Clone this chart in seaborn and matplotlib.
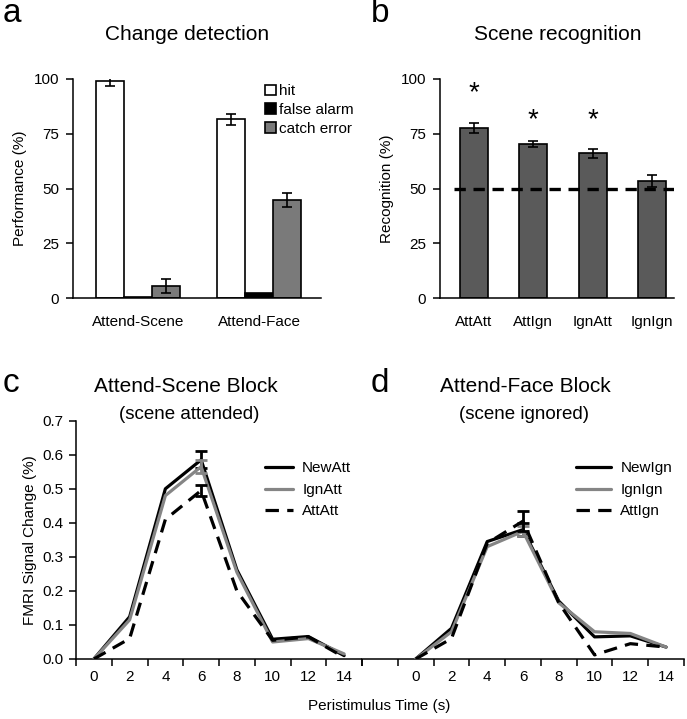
import numpy as np
import pandas as pd
import matplotlib
matplotlib.use("Agg")
import matplotlib.pyplot as plt
import seaborn as sns

# ---------------- data ----------------
a_groups = ["Attend-Scene", "Attend-Face"]
a_types = ["hit", "false alarm", "catch error"]
a_hit = [99.2, 81.6]
a_fa = [0.3, 2.3]
a_catch = [5.5, 44.7]
a_hit_err = [2.3, 2.5]
a_fa_err = [0.0, 0.0]
a_catch_err = [3.4, 3.2]

b_cats = ["AttAtt", "AttIgn", "IgnAtt", "IgnIgn"]
b_vals = [77.8, 70.2, 66.1, 53.6]
b_err = [2.3, 1.3, 2.1, 2.7]
b_star_y = [93.5, 81.2, 81.2, None]
b_chance = 50

t_vals = [0, 2, 4, 6, 8, 10, 12, 14]
c_labels = ["NewAtt", "IgnAtt", "AttAtt"]
c_new = [0.0, 0.124, 0.500, 0.585, 0.262, 0.058, 0.066, 0.010]
c_ign = [0.0, 0.115, 0.480, 0.565, 0.255, 0.050, 0.060, 0.015]
c_att = [0.0, 0.060, 0.410, 0.495, 0.200, 0.055, 0.065, 0.005]
c_err = [0.025, 0.020, 0.017]

d_labels = ["NewIgn", "IgnIgn", "AttIgn"]
d_new = [0.0, 0.090, 0.345, 0.380, 0.170, 0.065, 0.068, 0.035]
d_ign = [0.0, 0.080, 0.330, 0.375, 0.165, 0.080, 0.075, 0.035]
d_att = [0.0, 0.060, 0.340, 0.405, 0.165, 0.012, 0.045, 0.035]
d_err = [0.020, 0.015, 0.030]
err_time = 6

c_ticks = [0, 2, 4, 6, 8, 10, 12, 14]

# ---------------- style ----------------
sns.set_style("ticks")
plt.rcParams["font.family"] = ["Liberation Sans", "DejaVu Sans"]
plt.rcParams["axes.linewidth"] = 1.1
plt.rcParams["xtick.major.width"] = 1.1
plt.rcParams["ytick.major.width"] = 1.1
plt.rcParams["xtick.minor.width"] = 1.1
plt.rcParams["xtick.color"] = "black"
plt.rcParams["ytick.color"] = "black"
plt.rcParams["axes.edgecolor"] = "black"
plt.rcParams["text.color"] = "black"
plt.rcParams["axes.labelcolor"] = "black"

FS = 11

W, H = 687, 719
fig = plt.figure(figsize=(W / 100, H / 100), dpi=100)


def axrect(l, r, top, bot):
    return [l / W, 1 - bot / H, (r - l) / W, (bot - top) / H]


def ftext(x, y, s, **kw):
    fig.text(x / W, 1 - y / H, s, **kw)


BAR_EC = "black"
GRAY_BAR = "#7a7a7a"
DARK_BAR = "#5a5a5a"
GRAY_LINE = "#858585"

# ---------------- panel a ----------------
ax_a = fig.add_axes(axrect(73, 321, 79, 298))
df_a = pd.DataFrame({
    "group": a_groups * 3,
    "type": [a_types[0]] * 2 + [a_types[1]] * 2 + [a_types[2]] * 2,
    "value": a_hit + a_fa + a_catch,
})
sns.barplot(data=df_a, x="group", y="value", hue="type", order=a_groups,
            hue_order=a_types, palette=["white", "black", GRAY_BAR],
            edgecolor=BAR_EC, linewidth=1.2, width=0.69, errorbar=None,
            saturation=1, ax=ax_a)
errs_a = [a_hit_err, a_fa_err, a_catch_err]
vals_a = [a_hit, a_fa, a_catch]
for cont, vals, errs in zip(ax_a.containers, vals_a, errs_a):
    xs = [b.get_x() + b.get_width() / 2 for b in cont]
    for x, v, e in zip(xs, vals, errs):
        if e > 0:
            ax_a.errorbar(x, v, yerr=e, fmt="none", ecolor="black",
                          elinewidth=1.2, capsize=3.8, capthick=1.2)
ax_a.set_xlim(-0.537, 1.512)
ax_a.set_ylim(0, 100)
ax_a.set_yticks([0, 25, 50, 75, 100])
ax_a.set_xlabel("")
ax_a.set_ylabel("Performance (%)", fontsize=FS, labelpad=5)
ax_a.tick_params(axis="x", length=0, pad=12, labelsize=FS)
ax_a.tick_params(axis="y", length=5, pad=5, labelsize=FS)
sns.despine(ax=ax_a)
ax_a.legend(loc="upper left", bbox_to_anchor=(0.775, 0.975), frameon=False,
            handlelength=0.7, handleheight=0.7, handletextpad=0.2,
            labelspacing=0.3, fontsize=FS, borderaxespad=0, borderpad=0)

# ---------------- panel b ----------------
ax_b = fig.add_axes(axrect(440, 674, 79, 298))
sns.barplot(x=b_cats, y=b_vals, color=DARK_BAR, edgecolor=BAR_EC,
            linewidth=1.2, width=0.47, errorbar=None, saturation=1, ax=ax_b)
xs_b = [b.get_x() + b.get_width() / 2 for b in ax_b.containers[0]]
ax_b.errorbar(xs_b, b_vals, yerr=b_err, fmt="none", ecolor="black",
              elinewidth=1.2, capsize=3.8, capthick=1.2)
for x, s in zip(xs_b, b_star_y):
    if s is not None:
        ax_b.text(x, s, "*", ha="center", va="center", fontsize=20)
ax_b.axhline(b_chance, xmin=0.06, xmax=1.0, color="black", lw=2.4,
             ls=(0, (3.4, 2.3)), zorder=5)
ax_b.set_xlim(-0.573, 3.37)
ax_b.set_ylim(0, 100)
ax_b.set_yticks([0, 25, 50, 75, 100])
ax_b.set_ylabel("Recognition (%)", fontsize=FS, labelpad=5)
ax_b.tick_params(axis="x", length=0, pad=12, labelsize=FS)
ax_b.tick_params(axis="y", length=5, pad=5, labelsize=FS)
sns.despine(ax=ax_b)

# ---------------- panels c & d ----------------
DASH = (0, (4.2, 2.6))


def line_panel(ax, series, labels, errs):
    styles = [("black", "-"), (GRAY_LINE, "-"), ("black", DASH)]
    for vals, lab, (col, ls), e in zip(series, labels, styles, errs):
        sns.lineplot(x=t_vals, y=vals, color=col, lw=2.3, ls=ls, label=lab,
                     ax=ax, zorder=3)
        ax.errorbar([err_time], [vals[t_vals.index(err_time)]], yerr=[e],
                    fmt="none", ecolor=col, elinewidth=2.0, capsize=4.5,
                    capthick=2.0, zorder=3)
    ax.set_ylim(0, 0.7)
    ax.set_xticks(c_ticks)
    ax.set_xticklabels([str(t) for t in c_ticks])
    ax.tick_params(axis="x", which="major", length=0, pad=8, labelsize=FS)
    ax.tick_params(axis="x", which="minor", length=5, direction="out")
    ax.set_xlabel("")
    ax.set_ylabel("")


ax_c = fig.add_axes(axrect(76, 362, 420.7, 659))
line_panel(ax_c, [c_new, c_ign, c_att], c_labels, c_err)
ax_c.set_xlim(-1, 15)
ax_c.set_xticks(np.arange(-1, 16, 2), minor=True)
ax_c.set_yticks(np.round(np.arange(0, 0.71, 0.1), 1))
ax_c.set_yticklabels([f"{v:.1f}" for v in np.arange(0, 0.71, 0.1)])
ax_c.tick_params(axis="y", length=5, pad=4, labelsize=FS)
ax_c.set_ylabel("FMRI Signal Change (%)", fontsize=FS, labelpad=4)
sns.despine(ax=ax_c)
ax_c.legend(loc="upper left", bbox_to_anchor=(0.66, 0.83), frameon=False,
            handlelength=1.85, handletextpad=0.6, labelspacing=0.5,
            fontsize=FS, borderaxespad=0, borderpad=0)

ax_d = fig.add_axes(axrect(362, 684, 420.7, 659))
line_panel(ax_d, [d_new, d_ign, d_att], d_labels, d_err)
ax_d.set_xlim(-3, 15)
ax_d.set_xticks(np.arange(-3, 16, 2), minor=True)
ax_d.set_yticks([])
sns.despine(ax=ax_d, left=True)
ax_d.legend(loc="upper left", bbox_to_anchor=(0.665, 0.83), frameon=False,
            handlelength=2.3, handletextpad=0.6, labelspacing=0.5,
            fontsize=FS, borderaxespad=0, borderpad=0)

# ---------------- titles & labels ----------------
ftext(187, 34, "Change detection", ha="center", va="center", fontsize=15)
ftext(558, 34, "Scene recognition", ha="center", va="center", fontsize=15)
ftext(186, 386, "Attend-Scene Block", ha="center", va="center", fontsize=15)
ftext(189, 415, "(scene attended)", ha="center", va="center", fontsize=13.5)
ftext(525, 386, "Attend-Face Block", ha="center", va="center", fontsize=15)
ftext(524, 415, "(scene ignored)", ha="center", va="center", fontsize=13.5)
ftext(379, 706, "Peristimulus Time (s)", ha="center", va="center", fontsize=FS)

ftext(3, 14, "a", ha="left", va="center", fontsize=24)
ftext(371, 14, "b", ha="left", va="center", fontsize=24)
ftext(3, 383, "c", ha="left", va="center", fontsize=24)
ftext(371, 383, "d", ha="left", va="center", fontsize=24)

fig.savefig("out.png", dpi=100)
